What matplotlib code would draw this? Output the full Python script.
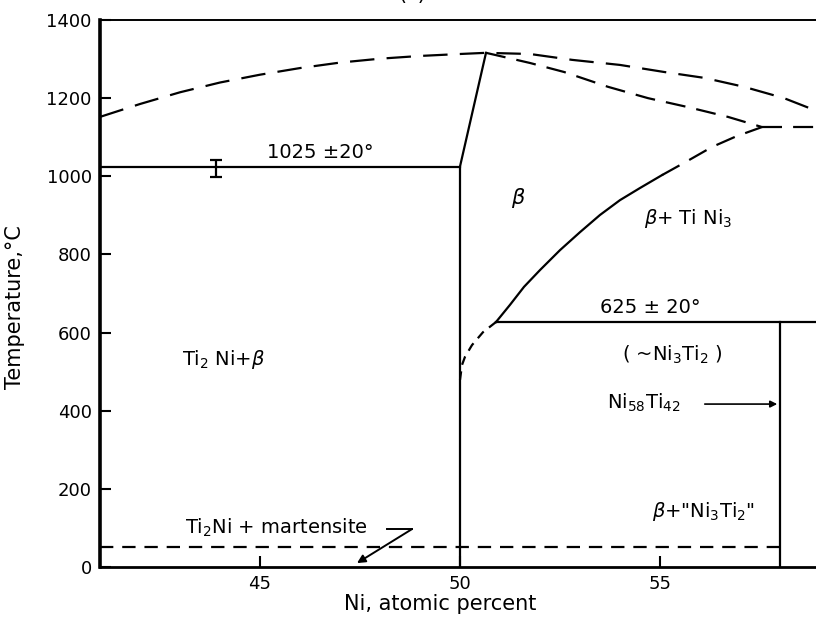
"""
Ti-Ni phase diagram section (Ni 41-59 at.%), redrawn from a scanned figure.
"""

import matplotlib

matplotlib.use("Agg")
import matplotlib.pyplot as plt  # noqa: E402

# --------------------------------------------------------------------------- #
# data (x = Ni at.%, y = temperature in C)
# --------------------------------------------------------------------------- #
# upper dashed liquidus-like curve
liq_x = [41, 42, 43, 44, 45, 46, 47, 48, 49, 50, 50.65,
         51.75, 52.8, 54.0, 55.1, 56.1, 57.1, 58.1, 58.85]
liq_t = [1152, 1185, 1215, 1240, 1260, 1277, 1291, 1301, 1308, 1313, 1316,
         1313, 1298, 1285, 1267, 1252, 1229, 1200, 1170]

# lower dashed curve from the peak to the 1125 kink
sol_x = [50.65, 51.75, 52.6, 53.7, 54.7, 55.7, 56.7, 57.55]
sol_t = [1316, 1290, 1267, 1229, 1200, 1177, 1152, 1126]

# flat dashed line from kink to the right
kink_x = [57.55, 59]
kink_t = [1126, 1126]

# beta / beta+TiNi3 boundary: solid part, then dashed part up to kink
bnd_x = [50.9, 51.25, 51.6, 52.0, 52.5, 53.0, 53.5, 54.0, 54.5, 55.05]
bnd_t = [627, 671, 717, 760, 811, 857, 901, 939, 970, 1003]
bnd_dash_x = [55.05, 55.7, 56.3, 56.9, 57.55]
bnd_dash_t = [1003, 1040, 1075, 1102, 1126]

# dashed curve below the 625 line down to x = 50
low_x = [50.9, 50.575, 50.3, 50.125, 50.05, 50.0]
low_t = [627, 601, 568, 538, 517, 479]

# solid boundaries
eut_x = [41, 50]            # 1025 line
eut_t = [1025, 1025]
left_x = [50, 50, 50.65]    # x = 50 vertical, then up to the peak
left_t = [0, 1025, 1316]
per_x = [50.9, 59]          # 625 line
per_t = [627, 627]
ni58_x = [58.0, 58.0]
ni58_t = [0, 627]

# martensite start, dashed
ms_x = [41, 58.0]
ms_t = [50, 50]

# error bar on the 1025 line
err_x, err_t, err_half = 43.9, 1020, 22

x_ticks = [45, 50, 55]
y_ticks = [0, 200, 400, 600, 800, 1000, 1200, 1400]

# --------------------------------------------------------------------------- #
fig = plt.figure(figsize=(8.16, 6.26), dpi=100)
ax = fig.add_axes([100 / 816, 59 / 626, 716 / 816, 547 / 626])
ax.set_xlim(41, 41 + 716 / 40)
ax.set_ylim(0, 1400)

k = "black"
lw = 1.6
ax.plot(liq_x, liq_t, color=k, lw=lw, dashes=(11, 5.5))
ax.plot(sol_x, sol_t, color=k, lw=lw, dashes=(9, 5))
ax.plot(kink_x, kink_t, color=k, lw=lw, dashes=(9, 5))
ax.plot(bnd_x, bnd_t, color=k, lw=lw)
ax.plot(bnd_dash_x, bnd_dash_t, color=k, lw=lw, dashes=(9, 5))
ax.plot(low_x, low_t, color=k, lw=lw, dashes=(4, 3))
ax.plot(eut_x, eut_t, color=k, lw=lw)
ax.plot(left_x, left_t, color=k, lw=lw)
ax.plot(per_x, per_t, color=k, lw=lw)
ax.plot(ni58_x, ni58_t, color=k, lw=lw)
ax.plot(ms_x, ms_t, color=k, lw=lw, dashes=(6, 4))
ax.errorbar(err_x, err_t, yerr=err_half, color=k, lw=1.6, capsize=4,
            capthick=1.6)

# labels in the fields
fs = 14
ax.text(46.5, 1062, "1025 ±20°", fontsize=fs, ha="center", va="center")
ax.text(51.45, 944, r"$\beta$", fontsize=fs + 1, ha="center", va="center")
ax.text(55.7, 893, r"$\beta$+ Ti Ni$_3$", fontsize=fs, ha="center",
        va="center")
ax.text(54.75, 663, "625 ± 20°", fontsize=fs, ha="center", va="center")
ax.text(55.3, 543, r"( ~Ni$_3$Ti$_2$ )", fontsize=fs, ha="center",
        va="center")
ax.text(44.1, 530, r"Ti$_2$ Ni+$\beta$", fontsize=fs, ha="center",
        va="center")
ax.text(54.6, 420, r"Ni$_{58}$Ti$_{42}$", fontsize=fs, ha="center",
        va="center")
ax.annotate("", xy=(58.0, 417), xytext=(56.05, 417),
            arrowprops=dict(arrowstyle="-|>", color=k, lw=1.2,
                            mutation_scale=10))
ax.text(56.1, 141, r'$\beta$+"Ni$_3$Ti$_2$"', fontsize=fs, ha="center",
        va="center")
ax.text(45.4, 100, r"Ti$_2$Ni + martensite", fontsize=fs, ha="center",
        va="center")
ax.plot([48.175, 48.8], [97, 97], color=k, lw=1.4)
ax.annotate("", xy=(47.425, 10), xytext=(48.8, 97),
            arrowprops=dict(arrowstyle="-|>", color=k, lw=1.4,
                            mutation_scale=12, shrinkA=0, shrinkB=0))

# axes styling
ax.set_xticks(x_ticks)
ax.set_yticks(y_ticks)
ax.tick_params(direction="in", length=8, width=1.5, labelsize=13, pad=6)
ax.spines["right"].set_visible(False)
ax.spines["left"].set_linewidth(2.6)
ax.spines["bottom"].set_linewidth(2.0)
ax.spines["top"].set_linewidth(1.4)
ax.set_xlabel("Ni, atomic percent", fontsize=15)
ax.xaxis.set_label_coords((440 - 100) / 716, -(594 - 567) / 547)
ax.set_ylabel("Temperature,°C", fontsize=15)
ax.yaxis.set_label_coords(-(100 - 25) / 716, (567 - 307) / 547)

# panel letter, mostly cut off by the scan
fig.text(412 / 816, 1 - 4 / 626, "(c)", fontsize=15, ha="center",
         va="bottom")

fig.savefig("out.png", dpi=100)
